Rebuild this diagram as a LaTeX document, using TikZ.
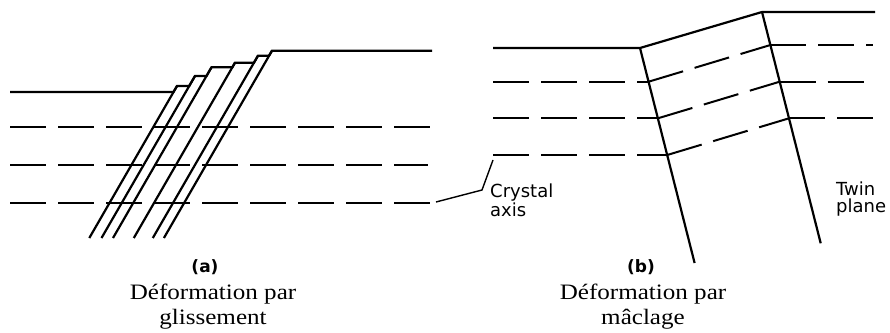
\documentclass[tikz,border=0pt]{standalone}
\usepackage{fontspec}
\usepackage{graphicx}
\setmainfont{Liberation Serif}
\newfontfamily\labelfont{DejaVu Sans}
\begin{document}
\begin{tikzpicture}[x=1pt,y=-1pt,
  solidline/.style={line width=2.2pt},
  dashline/.style={line width=2pt, dash pattern=on 36pt off 12pt},
  leader/.style={line width=1.4pt},
  sublabel/.style={font=\labelfont\bfseries\fontsize{17}{19}\selectfont, inner sep=0pt},
  tag/.style={font=\labelfont\fontsize{18}{17}\selectfont, align=left, inner sep=0pt, anchor=north west},
  caption/.style={font=\fontsize{22}{25}\selectfont, align=center, inner sep=0pt, anchor=north}]
\useasboundingbox (0,0) rectangle (890,332);

% ---------- (a) slip ----------
\coordinate (A0) at (10,92);
\coordinate (C0) at (173.5,92);
\coordinate (T1) at (177,86);
\coordinate (C1) at (189.2,86);
\coordinate (T2) at (195,76);
\coordinate (C2) at (206.5,76);
\coordinate (T3) at (211.5,67.3);
\coordinate (C3) at (232.3,67.3);
\coordinate (T4) at (235,62.7);
\coordinate (C4) at (254,62.7);
\coordinate (T5) at (258,55.7);
\coordinate (C5) at (269,55.7);
\coordinate (T6) at (272,50.7);
\coordinate (A1) at (432,50.7);
\coordinate (B1) at (89.3,238);
\coordinate (B2) at (101.5,238);
\coordinate (B3) at (113,238);
\coordinate (B4) at (133.8,238);
\coordinate (B5) at (152.8,238);
\coordinate (B6) at (163.9,238);

\draw[solidline] (A0) -- (C0) -- (T1) -- (C1) -- (T2) -- (C2) -- (T3) -- (C3)
  -- (T4) -- (C4) -- (T5) -- (C5) -- (T6) -- (A1);
\foreach \i in {1,...,6} \draw[solidline] (T\i) -- (B\i);

\coordinate (DL1) at (10,126.7);  \coordinate (DR1) at (430,126.7);
\coordinate (DL2) at (10,165);    \coordinate (DR2) at (428,165);
\coordinate (DL3) at (10,203.3);  \coordinate (DR3) at (430,203.3);
\draw[dashline] (DL1) -- (DR1);
\draw[dashline] (DL2) -- (DR2);
\draw[dashline] (DL3) -- (DR3);

% ---------- (b) twinning ----------
\coordinate (L0) at (493,48);
\coordinate (P1) at (640,48);
\coordinate (P2) at (762,12);
\coordinate (R0) at (875,12);
\coordinate (Q1) at (694.6,263);
\coordinate (Q2) at (820.7,243.3);
\draw[solidline] (L0) -- (P1) -- (P2) -- (R0);
\draw[solidline] (P1) -- (Q1);
\draw[solidline] (P2) -- (Q2);

\coordinate (bl1) at (493,81.7);   \coordinate (m1) at (648.6,81.7);
\coordinate (bl2) at (493,118.3);  \coordinate (m2) at (657.9,118.3);
\coordinate (bl3) at (493,155);    \coordinate (m3) at (667.2,155);
\coordinate (n1) at (770.4,45);    \coordinate (br1) at (873,45);
\coordinate (n2) at (779.7,81.7);  \coordinate (br2) at (868,81.7);
\coordinate (n3) at (789,118.3);   \coordinate (br3) at (880,118.3);
\foreach \k in {1,2,3} {
  \draw[dashline] (bl\k) -- (m\k);
  \draw[dashline] (m\k) -- (n\k);
  \draw[dashline] (n\k) -- (br\k);
}

% ---------- labels ----------
\node[tag] (crystal) at (490,184) {Crystal\\axis};
\node[tag] (twin) at (836,182) {Twin\\plane};

\coordinate (k0) at (436,202);
\coordinate (k1) at (482,190);
\coordinate (k2) at (493,160);
\draw[leader] (k0) -- (k1) -- (k2);

\node[sublabel] (la) at (205,267) {(a)};
\node[sublabel] (lb) at (641,267) {(b)};

\node[caption] (capa) at (213,284) {\scalebox{1.14}[1]{Déformation par}\\\scalebox{1.14}[1]{glissement}};
\node[caption] (capb) at (643,284) {\scalebox{1.14}[1]{Déformation par}\\\scalebox{1.14}[1]{mâclage}};
\end{tikzpicture}
\end{document}
